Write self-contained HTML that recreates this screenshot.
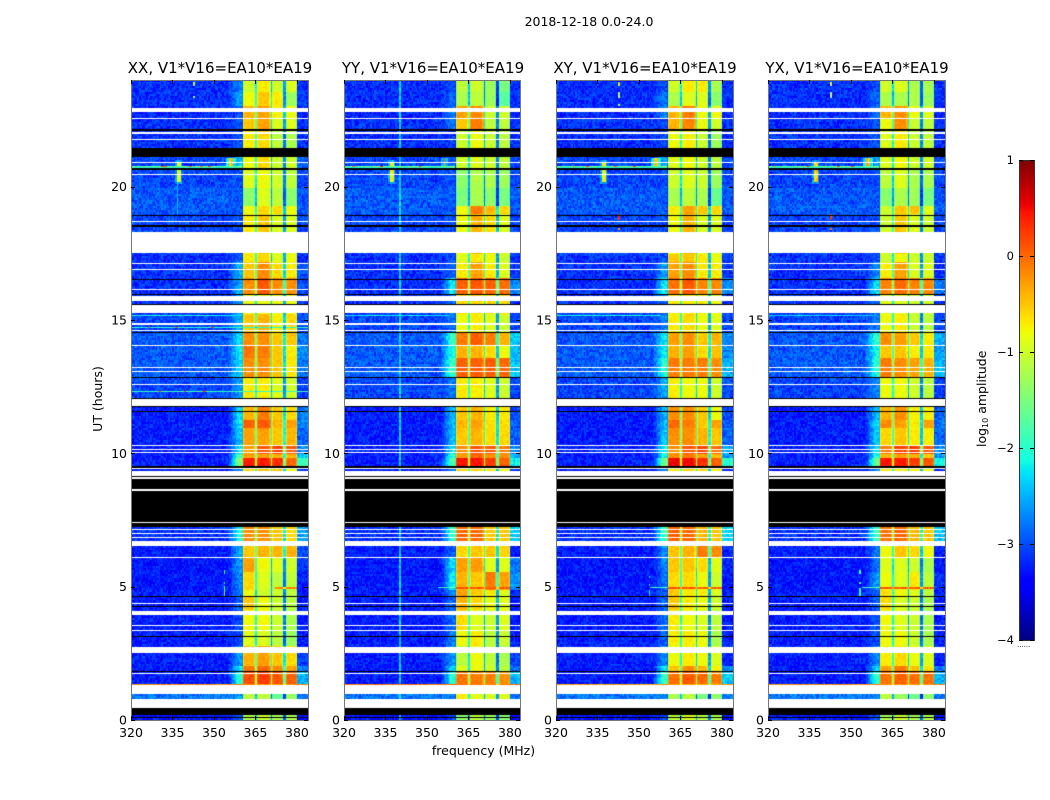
<!DOCTYPE html>
<html lang="en">
<head>
<meta charset="utf-8">
<title>2018-12-18 spectrogram</title>
<style>
html,body{margin:0;padding:0;background:#fff;}
#figure{position:relative;width:1050px;height:800px;overflow:hidden;background:#fff;}
canvas{position:absolute;display:block;}
svg{position:absolute;left:0;top:0;}
text{font-family:"DejaVu Sans","Liberation Sans",sans-serif;fill:#000;}
</style>
</head>
<body>
<div id="figure">
<canvas id="p0" width="177" height="640" style="left:131px;top:80px"></canvas>
<canvas id="p1" width="177" height="640" style="left:344px;top:80px"></canvas>
<canvas id="p2" width="177" height="640" style="left:556px;top:80px"></canvas>
<canvas id="p3" width="177" height="640" style="left:768px;top:80px"></canvas>
<canvas id="cbar" width="16" height="480" style="left:1019px;top:160px"></canvas>
<svg id="overlay" width="1050" height="800" viewBox="0 0 1050 800" xmlns="http://www.w3.org/2000/svg"></svg>
</div>
<script>
// ---- Chart data, all read by eye from the reference ----
var panelTitles = ["XX, V1*V16=EA10*EA19","YY, V1*V16=EA10*EA19","XY, V1*V16=EA10*EA19","YX, V1*V16=EA10*EA19"];
var xTicks = [320,335,350,365,380];
var yTicks = [0,5,10,15,20];
var colorTicks = [1,0,-1,-2,-3,-4];

// Time segment edges in UT hours (descending)
var rowEdges = [24,23.55,22.99,22.58,22.16,21.45,20.66,19.95,19.31,18.94,17.51,17.18,16.54,15.94,15.26,14.55,14.06,13.58,12.83,11.78,11.25,10.95,10.31,10.01,9.86,9.53,7.24,6.53,6.08,5.55,4.88,4.65,4.09,3.38,2.74,2.06,1.80,1.31,0.45,0];

// Off-band log10 amplitude for each time segment
var bgLevels = [-3.15,-3.15,-3.2,-3.15,-3.15,-3.05,-3.05,-2.95,-2.95,-3.05,-3.15,-3.15,-3.15,-3.15,-3.05,-2.95,-2.95,-2.95,-3.05,-3.25,-3.25,-3.25,-3.25,-3.25,-3.25,-3.25,-3.15,-3.25,-3.3,-3.3,-3.25,-3.25,-3.25,-3.25,-3.25,-3.25,-3.25,-2.8,-3.3];

// Each row: shoulder level, then levels of the four bright sub-bands
var xxLevels = [
[-2.7,-1.0,-0.7,-1.0,-0.9],[-2.6,-0.8,-0.5,-0.7,-1.3],[-3,-0.4,-0.3,-0.7,-0.8],[-3,-0.5,-0.3,-0.9,-0.9],[-3,-0.7,-0.6,-1.1,-1.2],
[-2.4,-0.8,-0.6,-1.0,-1.0],[-3,-0.9,-0.8,-1.0,-1.1],[-3,-1.4,-0.9,-1.1,-1.4],[-3,-0.8,-0.6,-0.6,-0.8],[-3,-0.7,-0.5,-0.9,-0.9],
[-2.9,-0.7,-0.6,-0.9,-0.8],[-2.5,-0.5,-0.2,-0.6,-0.7],[-2.5,-0.2,0.1,-0.2,-0.2],[-2.6,-0.8,-0.8,-0.8,-0.8],[-2.5,-0.5,-0.4,-0.7,-0.6],
[-2.3,-0.2,-0.2,-0.5,-0.5],[-2.2,-0.05,-0.1,-0.5,-0.7],[-2.3,-0.2,-0.2,-0.5,-0.7],[-2.6,-0.7,-0.7,-0.9,-1.0],[-2.3,-0.4,-0.1,-0.5,-0.6],
[-2.2,0.05,0.1,-0.4,-0.3],[-2.4,-0.3,-0.3,-0.5,-0.4],[-2.2,-0.3,0.1,0.2,0.1],[-1.8,-0.3,-0.3,-0.4,-0.4],[-1.4,0.4,0.4,0.3,0.0],
[-2.6,-0.6,-0.5,-0.5,-0.8],[-2.1,-0.2,-0.2,-0.5,-0.6],[-2.5,-0.5,-0.4,-0.4,-0.4],[-2.6,-0.3,-0.8,-0.9,-1.0],[-2.7,-0.6,-0.9,-1.1,-1.1],
[-2.8,-0.8,-1.0,-1.0,-1.1],[-2.9,-0.5,-0.8,-1.0,-1.1],[-3,-0.8,-0.8,-1.0,-1.2],[-3,-0.9,-0.9,-1.1,-1.3],[-2.6,-0.4,-0.3,-0.5,-0.6],
[-2.2,-0.1,0.0,-0.2,-0.3],[-2.0,0.15,0.25,0.1,0.05],[-2.6,-1.1,-1.1,-1.6,-1.3],[-3,-1.2,-1.0,-1.2,-1.2]];
var yyLevels = [
[-3,-1.1,-1.0,-1.3,-1.5],[-2.9,-1.2,-1.1,-1.3,-1.7],[-2.8,-0.3,-0.2,-1.0,-1.0],[-2.8,-0.5,-0.1,-1.1,-1.1],[-3.1,-1.0,-0.8,-1.0,-1.1],
[-2.9,-1.0,-0.9,-1.0,-1.1],[-3,-1.4,-1.2,-1.2,-1.3],[-3,-1.5,-1.2,-1.4,-1.5],[-3,-0.8,-0.1,-0.4,-0.6],[-3,-0.8,-0.4,-0.6,-0.9],
[-3,-0.9,-0.7,-0.8,-1.0],[-2.9,-0.7,-0.3,-0.7,-0.9],[-2.2,0.05,0.1,0.05,0.0],[-2.8,-0.6,-0.6,-0.6,-0.6],[-2.8,-0.8,-0.7,-0.9,-1.0],
[-1.9,-0.1,0.05,-0.1,-0.4],[-2.0,-0.4,-0.4,-0.6,-0.8],[-1.9,0.05,0.05,0.05,0.0],[-2.8,-0.7,-0.7,-0.9,-1.0],[-2.5,-0.5,-0.4,-0.7,-0.7],
[-2.4,-0.4,-0.3,-0.6,-0.6],[-2.4,-0.5,-0.4,-0.6,-0.6],[-2.2,-0.2,0.1,0.1,-0.1],[-2.0,-0.3,0.0,-0.2,-0.2],[-1.7,0.45,0.45,0.25,0.05],
[-2.7,-0.6,-0.6,-0.7,-0.8],[-1.9,0.0,0.0,-0.5,-0.5],[-2.9,-0.6,-0.5,-0.5,-0.6],[-2.3,-0.3,-0.3,-0.9,-0.9],[-2.2,-0.4,-0.5,-0.1,-0.3],
[-2.7,-0.3,-0.5,-0.7,-0.9],[-2.9,-0.4,-0.6,-0.8,-0.9],[-2.8,-0.6,-0.9,-1.0,-0.9],[-2.7,-0.8,-0.7,-1.1,-1.0],[-2.6,-1.1,-0.8,-1.1,-1.2],
[-2.3,-0.9,-0.8,-1.0,-1.1],[-2.0,-0.05,-0.1,-0.1,-0.2],[-2.8,-0.7,-0.9,-0.9,-0.9],[-3,-1.4,-1.1,-1.3,-1.4]];
var xyLevels = [
[-3,-1.0,-0.7,-0.7,-1.2],[-2.8,-1.2,-0.9,-0.9,-1.4],[-2.7,-0.4,-0.1,-0.8,-0.8],[-3,-0.4,-0.15,-0.8,-1.0],[-3,-0.8,-0.7,-1.0,-1.3],
[-2.6,-0.9,-0.8,-1.0,-1.1],[-3,-1.0,-0.9,-1.0,-1.3],[-3,-1.2,-1.1,-1.2,-1.6],[-3,-0.7,-0.3,-0.5,-0.6],[-3,-0.8,-0.4,-0.9,-0.9],
[-3,-0.5,-0.5,-0.7,-0.8],[-2.6,-0.3,-0.2,-0.7,-0.7],[-2.2,-0.05,0.1,-0.15,-0.15],[-2.8,-0.7,-0.7,-0.7,-0.8],[-2.7,-0.7,-0.6,-0.8,-0.9],
[-2.2,-0.3,-0.2,-0.5,-0.4],[-2.2,-0.4,-0.3,-0.6,-0.5],[-2.0,-0.1,-0.1,-0.1,-0.2],[-2.5,-0.7,-0.8,-0.8,-1.0],[-2.5,-0.2,-0.2,-0.5,-0.8],
[-2.4,0.0,-0.1,-0.5,-0.3],[-2.4,-0.2,-0.2,-0.4,-0.5],[-2.1,-0.2,0.1,0.2,0.0],[-2.1,-0.2,-0.1,-0.3,-0.4],[-1.5,0.55,0.5,0.3,0.05],
[-2.7,-0.7,-0.6,-0.6,-0.7],[-1.8,0.05,0.0,-0.4,-0.5],[-2.7,-0.5,-0.4,-0.1,-0.2],[-2.7,-0.5,-0.5,-0.6,-0.9],[-2.8,-0.6,-0.6,-0.8,-1.0],
[-2.9,-0.5,-0.7,-0.7,-0.9],[-2.9,-0.5,-0.7,-0.8,-1.0],[-2.8,-0.7,-0.8,-0.9,-1.1],[-2.9,-0.7,-0.7,-0.8,-1.2],[-2.7,-0.8,-0.7,-0.8,-0.9],
[-2.2,-0.5,-0.2,-0.4,-0.7],[-1.9,-0.05,0.1,0.0,-0.1],[-2.7,-1.2,-1.1,-1.5,-1.4],[-3,-1.1,-0.9,-1.1,-1.2]];
var yxLevels = [
[-3,-1.0,-0.9,-1.2,-1.2],[-2.9,-1.2,-1.2,-1.2,-1.3],[-2.8,-0.4,-0.2,-0.8,-0.9],[-3,-0.8,-0.2,-1.0,-1.1],[-3,-0.9,-0.7,-1.0,-1.1],
[-2.6,-0.9,-0.8,-1.0,-1.0],[-3,-1.1,-0.9,-1.2,-1.2],[-3,-1.4,-1.2,-1.3,-1.5],[-3,-1.0,-0.5,-0.5,-0.9],[-3,-1.0,-0.5,-0.9,-1.0],
[-3,-1.0,-0.8,-1.0,-1.0],[-2.7,-0.7,-0.3,-0.9,-0.9],[-2.3,-0.15,0.0,-0.15,-0.15],[-2.8,-0.9,-0.9,-1.0,-1.0],[-2.8,-0.8,-0.7,-1.0,-1.1],
[-2.0,-0.2,-0.3,-0.5,-0.7],[-2.1,-0.5,-0.5,-0.7,-0.7],[-2.0,-0.1,-0.2,-0.3,-0.4],[-2.7,-0.8,-0.8,-1.0,-1.1],[-2.4,-0.4,-0.2,-0.7,-0.7],
[-2.3,-0.2,-0.3,-0.7,-0.3],[-2.4,-0.6,-0.5,-0.7,-0.7],[-2.2,-0.1,0.2,0.25,0.1],[-2.1,-0.4,-0.3,-0.4,-0.5],[-1.6,0.45,0.4,0.25,0.1],
[-2.7,-0.7,-0.7,-0.7,-0.8],[-1.9,-0.05,0.0,-0.4,-0.5],[-2.8,-0.8,-0.5,-0.6,-0.8],[-2.8,-0.9,-0.9,-1.0,-1.2],[-2.6,-0.8,-0.9,-0.7,-1.1],
[-2.9,-0.6,-0.8,-0.9,-1.1],[-2.9,-0.6,-0.9,-1.0,-1.2],[-3,-0.8,-0.9,-1.0,-1.2],[-3,-0.8,-0.8,-1.0,-1.2],[-2.7,-0.7,-0.6,-0.8,-0.9],
[-2.3,-0.3,-0.1,-0.5,-0.6],[-2.0,-0.05,0.05,-0.05,-0.05],[-2.7,-1.1,-1.3,-1.6,-1.4],[-3,-1.2,-1.0,-1.2,-1.2]];
var panelLevels = [xxLevels,yyLevels,xyLevels,yxLevels];

// Flagged time ranges in hours, blank (white) and zero-valued (black)
var whiteFlags = [[0.45,0.79],[0.98,1.31],[1.72,1.76],[2.51,2.74],[3.34,3.37],[3.52,3.56],[3.94,4.09],[4.35,4.39],[6.07,6.11],[6.52,6.71],[6.82,6.86],[6.97,7.01],[7.12,7.16],[7.39,7.42],[8.59,8.66],[9.04,9.11],[9.15,9.34],[9.41,9.45],[10.01,10.05],[10.12,10.16],[10.27,10.31],[11.78,12.03],[12.56,12.6],[13.06,13.1],[13.2,13.24],[14.02,14.06],[14.59,14.62],[14.83,14.87],[15.25,15.55],[15.7,15.91],[16.12,16.16],[16.87,16.91],[17.1,17.14],[17.51,18.3],[18.67,18.71],[20.44,20.47],[20.89,20.92],[21.76,21.8],[21.98,22.06],[22.53,22.57],[22.8,22.96]];
var blackFlags = [[0.1,0.13],[0.19,0.45],[1.8,1.84],[3.11,3.15],[4.24,4.28],[4.61,4.65],[7.24,7.39],[7.42,8.59],[8.66,9.04],[9.11,9.15],[9.45,9.52],[11.55,11.59],[11.74,11.78],[12.03,12.07],[12.82,12.86],[14.51,14.55],[15.55,15.6],[15.94,15.97],[16.5,16.54],[18.49,18.56],[18.9,18.92],[20.62,20.7],[21.11,21.45],[22.09,22.16]];

// Narrow interference: panel, MHz, top hour, bottom hour, level, half width MHz
var spurs = [
[1,340.25,24,0,-2.35,0.1],
[0,336.75,21,18.9,-2.5,0.1],
[0,342.75,23.9,23.75,-1.2,0.1],[0,342.75,23.4,23.3,-1.2,0.1],
[2,342.75,23.9,23.75,-0.6,0.1],[2,342.75,23.55,23.35,-1.2,0.1],[2,342.75,23.1,23.0,-1.2,0.1],
[3,342.75,23.9,23.75,-0.8,0.1],[3,342.75,23.55,23.3,-1.2,0.1],[3,342.75,23.05,23.0,-1.0,0.1],
[2,342.75,18.95,18.75,0.3,0.1],[3,342.75,18.95,18.75,0.3,0.1],[2,342.75,18.45,18.35,-0.2,0.1],[3,342.75,18.45,18.35,-0.2,0.1],
[0,337.25,21,20.1,-2.6,1.0],[1,337.25,21,20.1,-2.6,1.0],[2,337.25,21,20.1,-2.6,1.0],[3,337.25,21,20.1,-2.6,1.0],
[0,337.25,20.9,20.15,-0.8,0.55],[1,337.25,20.9,20.15,-0.8,0.55],[2,337.25,20.9,20.15,-0.8,0.55],[3,337.25,20.9,20.15,-0.6,0.55],
[0,356.25,21.1,20.62,-2.1,1.5],[1,356.25,21.1,20.62,-2.5,1],[2,356.25,21.1,20.62,-2.1,1.5],[3,356.25,21.1,20.62,-2.1,1.5],
[0,356.25,21.1,20.62,-0.5,0.55],[1,356.25,21.1,20.62,-0.1,0.3],[2,356.25,21.1,20.62,-0.5,0.55],[3,356.25,21.1,20.62,-0.5,0.55],
[0,353.75,5.6,5.5,-1.9,0.1],[0,353.75,5.2,5.1,-1.9,0.1],[0,353.75,5.0,4.65,-1.7,0.1],
[2,353.75,5.4,5.3,-2.1,0.1],[2,353.75,5.1,5.0,-2.1,0.1],[2,353.75,4.85,4.65,-2.1,0.1],
[3,353.25,5.6,5.5,-2,0.1],[3,353.25,5.2,5.1,-2,0.1],[3,353.25,4.95,4.65,-2,0.1]
];

// One-pixel horizontal events: panel, hour, start MHz, end MHz, level
var lineEvents = [
[0,20.77,320,360,-1.6],[1,20.77,320,360,-1.6],[2,20.77,320,360,-1.6],[3,20.77,320,360,-1.6],
[0,20.74,320,360,-2.0],[1,20.74,320,360,-2.0],[2,20.74,320,360,-2.0],[3,20.74,320,360,-2.0],
[0,20.77,331,333,0],[0,20.77,341,342,0.1],[0,20.77,345,346,-0.1],[0,20.77,348,349,0.2],
[1,20.77,323,324,0.1],[1,20.77,333,334,0.2],[1,20.77,347,348,0.1],
[2,20.77,326,327,-0.2],[2,20.77,331,332,0],[2,20.77,341,342,0.1],[2,20.77,348,349,0.2],
[3,20.77,322,323,-0.3],[3,20.77,334,335,0.3],[3,20.77,345,346,0],[3,20.77,350,351,0.3],
[0,1.35,320,384,-0.2],[1,1.35,320,384,-0.05],[2,1.35,320,384,-0.3],[3,1.35,320,384,-0.2],
[1,5.0,360.7,379.9,0.1],[2,5.0,360.7,379.9,0.1],[3,5.0,360.7,379.9,0.1],[0,5.0,372,379.9,-0.1],
[1,4.96,360.7,379.9,0.1],[2,4.96,360.7,379.9,0.1],[3,4.96,360.7,379.9,0.1],[0,4.96,372,379.9,-0.1],
[1,5.0,354,360.7,-1.9],[2,5.0,354,360.7,-1.9],[3,5.0,354,360.7,-1.9],
[0,14.75,320,384,-2.0],[0,14.75,326,327,0.1],[0,14.75,336,337,0],[0,14.75,349,350,0.1],
[0,12.33,320,384,-1.9],[0,12.33,330,331,0.1],[0,12.33,339,340,0],[0,12.33,346,347,0.2],
[0,15.2,320,358,-2.1],[1,15.2,320,358,-2.2],[2,15.2,320,358,-2.1],[3,15.2,320,358,-2.3]
];

// Frequency layout of the four bright sub-bands, in MHz
var bandEdges = [[360.7,364.9],[365.7,370.3],[370.9,375.2],[375.8,379.9]];
var notchDrop = [1.3,1.6,1.7];

// Hand-typed cell-to-cell texture, in log10 units (appearance only)
var grain = [0.2,-0.3,0.1,0.35,-0.1,-0.4,0.25,0,-0.2,0.4,-0.35,0.05,0.15,-0.25,0.3,-0.05,-0.45,0.2,0.1,-0.15,0.45,-0.3,0,0.25,-0.4,0.1,0.35,-0.2,-0.1,0.3,-0.35,0.15,0.05,-0.25,0.4,-0.05,-0.4,0.2,0.3,-0.15,0,0.1,-0.3,0.45,-0.2,0.25,-0.45,0.05,0.35,-0.1,-0.3,0.2,0.15,-0.35,0.4,0,-0.25,0.3,-0.05,0.1,-0.4,0.25,0.05,-0.2,0.35,-0.3,0.15,-0.1,0.45,-0.35,0,0.2,-0.25,0.3,-0.45,0.1,0.25,-0.05,-0.3,0.4,-0.15,0.05,0.35,-0.4,0.2,-0.2,0.1,0.3,-0.35,0,0.15,-0.25,0.4,-0.1,0.25,-0.3,0.05];

// ---- Scales ----
var panelLefts = [131,344,556,768];
var frameWidths = [177,176,177,177];
var panelWidth = 177, plotTop = 80, plotHeight = 640;
var freqMin = 320, freqMax = 384, hourMin = 0, hourMax = 24, levelMin = -4, levelMax = 1;
function xScale(f){ return (f-freqMin)/(freqMax-freqMin)*panelWidth; }
function yScale(h){ return (hourMax-h)/(hourMax-hourMin)*plotHeight; }
function cScale(v){ return (levelMax-v)/(levelMax-levelMin)*480; }

function lerp(stops,t){
  for(var i=1;i<stops.length;i++){
    if(t<=stops[i][0]){
      var a=stops[i-1],b=stops[i];
      return a[1]+(b[1]-a[1])*(t-a[0])/(b[0]-a[0]);
    }
  }
  return stops[stops.length-1][1];
}
var jetR=[[0,0],[0.35,0],[0.66,1],[0.89,1],[1,0.5]];
var jetG=[[0,0],[0.125,0],[0.375,1],[0.64,1],[0.91,0],[1,0]];
var jetB=[[0,0.5],[0.11,1],[0.34,1],[0.65,0],[1,0]];
function jet(v){
  var t=Math.max(0,Math.min(1,(v-levelMin)/(levelMax-levelMin)));
  return 'rgb('+Math.round(lerp(jetR,t)*255)+','+Math.round(lerp(jetG,t)*255)+','+Math.round(lerp(jetB,t)*255)+')';
}
function rowFor(h){
  for(var i=0;i<rowEdges.length-1;i++){ if(h>=rowEdges[i+1]) return i; }
  return rowEdges.length-2;
}
function cellLevel(p,c,r,f,h){
  var i=rowFor(h), vals=panelLevels[p][i], bg=bgLevels[i], s=vals[0];
  var g=grain[(c*c*3+r*17+c*r+p*11)%grain.length];
  var v;
  if(f<355){ v=bg+g*0.6; }
  else if(f<bandEdges[0][0]){
    var w=(f-355)/(bandEdges[0][0]-355);
    v=Math.max(bg,bg+(s-bg)*Math.min(1,w*1.4))+g*0.5;
  }
  else if(f>=bandEdges[3][1]){ v=Math.max(bg,s-0.5)+g*0.5; }
  else{
    v=null;
    for(var b=0;b<4;b++){
      if(f>=bandEdges[b][0]&&f<bandEdges[b][1]){
        var edge=Math.min(f-bandEdges[b][0],bandEdges[b][1]-f);
        v=vals[b+1]+(edge<0.5?-0.2:0)+g*0.2;
      }
    }
    if(v===null){
      for(var n=0;n<3;n++){
        if(f>=bandEdges[n][1]&&f<bandEdges[n+1][0]){ v=(vals[n+1]+vals[n+2])/2-notchDrop[n]+g*0.3; }
      }
    }
  }
  for(var k=0;k<spurs.length;k++){
    var sp=spurs[k];
    if(sp[0]===p&&Math.abs(f-sp[1])<=sp[5]&&h<=sp[2]&&h>=sp[3]){ v=Math.max(v,sp[4]+g*0.5); }
  }
  return v;
}

// ---- Heatmaps ----
var channelCount=(freqMax-freqMin)*2, rowCount=320;
panelLefts.forEach(function(left,p){
  var ctx=document.getElementById('p'+p).getContext('2d');
  ctx.fillStyle='#fff';
  ctx.fillRect(0,0,panelWidth,plotHeight);
  for(var c=0;c<channelCount;c++){
    var f=freqMin+(c+0.5)*0.5;
    var x0=Math.round(xScale(f-0.25)), x1=Math.round(xScale(f+0.25));
    for(var r=0;r<rowCount;r++){
      var h=hourMax-(r+0.5)*(hourMax-hourMin)/rowCount;
      ctx.fillStyle=jet(cellLevel(p,c,r,f,h));
      ctx.fillRect(x0,r*2,x1-x0,2);
    }
  }
  lineEvents.forEach(function(e){
    if(e[0]!==p) return;
    for(var c=0;c<channelCount;c++){
      var f=freqMin+(c+0.5)*0.5;
      if(f<e[2]||f>e[3]) continue;
      var x0=Math.round(xScale(f-0.25)), x1=Math.round(xScale(f+0.25));
      var inNotch=(f>bandEdges[0][1]&&f<bandEdges[1][0])||(f>bandEdges[1][1]&&f<bandEdges[2][0])||(f>bandEdges[2][1]&&f<bandEdges[3][0]);
      ctx.fillStyle=jet(e[4]+(inNotch?-0.6:0)+grain[(c*7)%grain.length]*0.4);
      ctx.fillRect(x0,Math.round(yScale(e[1])),x1-x0,1);
    }
  });
  ctx.fillStyle='#000';
  blackFlags.forEach(function(fl){
    var y0=Math.round(yScale(fl[1])), y1=Math.round(yScale(fl[0]));
    ctx.fillRect(0,y0,panelWidth,Math.max(1,y1-y0));
  });
  ctx.fillStyle='#fff';
  whiteFlags.forEach(function(fl){
    var y0=Math.round(yScale(fl[1])), y1=Math.round(yScale(fl[0]));
    ctx.fillRect(0,y0,panelWidth,Math.max(1,y1-y0));
  });
});

// ---- Colorbar gradient ----
(function(){
  var ctx=document.getElementById('cbar').getContext('2d');
  for(var y=0;y<480;y++){
    ctx.fillStyle=jet(levelMax-(y+0.5)/480*(levelMax-levelMin));
    ctx.fillRect(0,y,16,1);
  }
})();

// ---- Axes and labels ----
var svg=document.getElementById('overlay');
var NS='http://www.w3.org/2000/svg';
function addText(name,str,x,y,size,anchor,rot){
  var el=document.createElementNS(NS,'text');
  
  
  el.setAttribute('x',x);
  el.setAttribute('y',y);
  el.setAttribute('font-size',size);
  el.setAttribute('text-anchor',anchor);
  if(rot) el.setAttribute('transform','rotate(-90 '+x+' '+y+')');
  el.textContent=str;
  svg.appendChild(el);
  return el;
}
function addLine(name,x1,y1,x2,y2,color){
  var el=document.createElementNS(NS,'line');
  
  
  el.setAttribute('x1',x1);
  el.setAttribute('y1',y1);
  el.setAttribute('x2',x2);
  el.setAttribute('y2',y2);
  el.setAttribute('stroke',color||'#000');
  el.setAttribute('stroke-width','1');
  svg.appendChild(el);
}
function addFrame(name,x,y,w,h,color){
  var el=document.createElementNS(NS,'rect');
  
  
  el.setAttribute('x',x+0.5);
  el.setAttribute('y',y+0.5);
  el.setAttribute('width',w);
  el.setAttribute('height',h);
  el.setAttribute('fill','none');
  el.setAttribute('stroke',color);
  el.setAttribute('stroke-width','1');
  svg.appendChild(el);
}

addText('figure-title','2018-12-18 0.0-24.0',589,26,12.5,'middle');
addText('x-axis-title','frequency (MHz)',483.5,755,12.5,'middle');
addText('y-axis-title','UT (hours)',102,399,12.5,'middle',true);

panelLefts.forEach(function(left,p){
  var key=['xx','yy','xy','yx'][p];
  addFrame(key+'-frame',left,plotTop,frameWidths[p],plotHeight,'#777');
  addText(key+'-title',panelTitles[p],left+89,73,15,'middle');
  xTicks.forEach(function(t){
    var x=Math.round(left+xScale(t))+0.5;
    addLine(key+'-x-tick',x,plotTop+plotHeight,x,plotTop+plotHeight-4);
    addLine(key+'-x-tick-top',x,plotTop,x,plotTop+4);
    addText(key+'-x-tick-label',String(t),left+xScale(t),737,12.5,'middle');
  });
  yTicks.forEach(function(t){
    var y=Math.round(plotTop+yScale(t))+0.5;
    addLine(key+'-y-tick',left,y,left+4,y);
    addLine(key+'-y-tick-right',left+frameWidths[p],y,left+frameWidths[p]-4,y);
    addText(key+'-y-tick-label',String(t),left-4,plotTop+yScale(t)+4.5,12.5,'end');
  });
});

addFrame('colorbar-frame',1019,160,15,480,'#333');
colorTicks.forEach(function(t){
  var y=Math.round(160+cScale(t))+0.5;
  addLine('colorbar-tick',1019,y,1023,y);
  addLine('colorbar-tick-right',1034,y,1030,y);
  addText('colorbar-tick-label',String(t).replace('-','\u2212'),1014,160+cScale(t)+4,11.5,'end');
});
var cbLabel=addText('colorbar-title','log',986,447,12.5,'start',true);
var sub=document.createElementNS(NS,'tspan');


sub.setAttribute('font-size','8');
sub.setAttribute('dy','2');
sub.textContent='10';
cbLabel.appendChild(sub);
var rest=document.createElementNS(NS,'tspan');


rest.setAttribute('dy','-2');
rest.textContent=' amplitude';
cbLabel.appendChild(rest);
var dots=addText('colorbar-offset-dots','......',1017,647,7,'start');
dots.setAttribute('fill','#777');
</script>
</body>
</html>
